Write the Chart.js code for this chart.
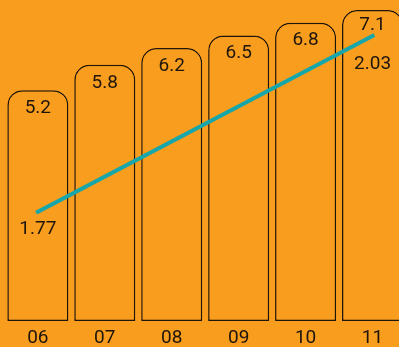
<!DOCTYPE html>
<html>
<head>
<meta charset="utf-8">
<script src="https://cdn.jsdelivr.net/npm/chart.js@4/dist/chart.umd.min.js"></script>
<style>
html,body{margin:0;padding:0;background:#F99D1E;overflow:hidden;}
#wrap{position:relative;width:406px;height:347px;}
</style>
</head>
<body>
<div id="wrap"><canvas id="c"></canvas></div>
<script>
const categories = ["06", "07", "08", "09", "10", "11"];
const barValues = [5.2, 5.8, 6.2, 6.5, 6.8, 7.1];
const lineValues = [1.77, null, null, null, null, 2.03];
const barLabels = ["5.2", "5.8", "6.2", "6.5", "6.8", "7.1"];
const lineLabels = ["1.77", "", "", "", "", "2.03"];

const BG = "#F99D1E";
const INK = "#1E150B";
const TEAL = "#17A6A9";
const FONT = "Roboto, 'DejaVu Sans', sans-serif";
const Y_MIN = -0.28;

const labelPlugin = {
  id: "valueLabels",
  afterDatasetsDraw(chart) {
    const ctx = chart.ctx;
    ctx.save();
    ctx.fillStyle = INK;
    ctx.font = "19px " + FONT;
    ctx.textAlign = "center";
    ctx.textBaseline = "middle";
    const barMeta = chart.getDatasetMeta(1);
    barMeta.data.forEach((el, i) => {
      const off = i === 5 ? 15.5 : 18;
      ctx.fillText(barLabels[i], el.x, el.y + off);
    });
    const lineMeta = chart.getDatasetMeta(0);
    lineMeta.data.forEach((el, i) => {
      if (!lineLabels[i]) return;
      const off = i === 5 ? 28.5 : 17;
      ctx.fillText(lineLabels[i], el.x, el.y + off);
    });
    ctx.restore();
  }
};

new Chart(document.getElementById("c"), {
  data: {
    labels: categories,
    datasets: [
      {
        type: "line",
        data: lineValues,
        yAxisID: "y2",
        borderColor: TEAL,
        borderWidth: 4,
        borderCapStyle: "square",
        pointRadius: 0,
        spanGaps: true,
        tension: 0,
        order: 0
      },
      {
        type: "bar",
        data: barValues,
        yAxisID: "y",
        base: Y_MIN,
        backgroundColor: BG,
        borderColor: INK,
        borderWidth: 1.5,
        borderSkipped: false,
        borderRadius: {topLeft: 15, topRight: 15, bottomLeft: 0, bottomRight: 0},
        barPercentage: 0.912,
        categoryPercentage: 1,
        order: 1
      }
    ]
  },
  options: {
    responsive: true,
    maintainAspectRatio: false,
    animation: false,
    events: [],
    layout: {padding: {left: 4.4, right: 0, top: 0, bottom: 0.4}},
    plugins: {legend: {display: false}, tooltip: {enabled: false}},
    scales: {
      x: {
        grid: {display: false, drawTicks: false},
        border: {display: false},
        ticks: {color: INK, font: {family: FONT, size: 19}, padding: 6, maxRotation: 0, minRotation: 0},
        afterFit: (s) => { s.height = 25.6; }
      },
      y: {display: false, min: Y_MIN, max: 7.34},
      y2: {display: false, min: 1.6086, max: 2.083}
    }
  },
  plugins: [labelPlugin]
});
</script>
</body>
</html>
